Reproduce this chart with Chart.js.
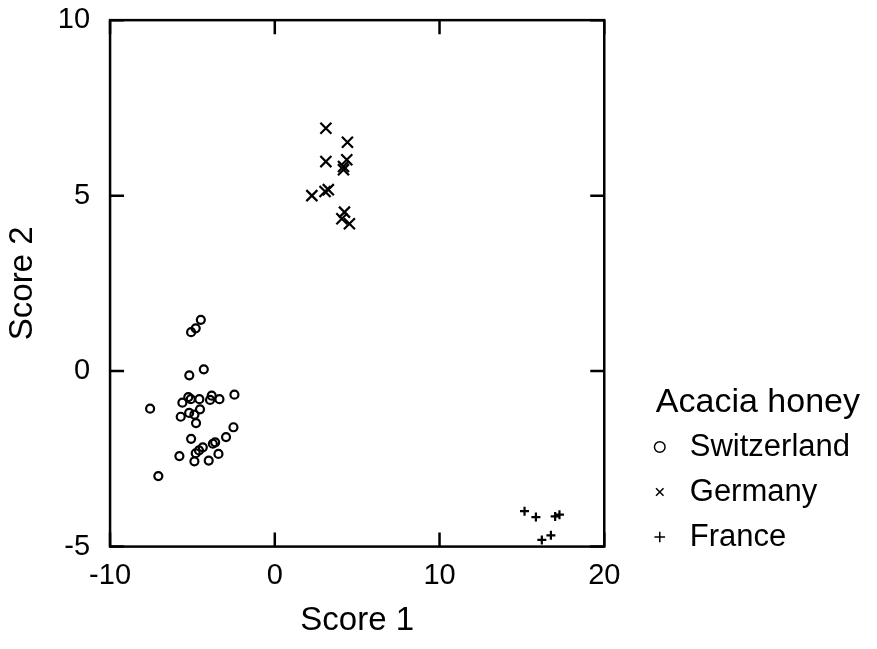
<!DOCTYPE html>
<html>
<head>
<meta charset="utf-8">
<script src="https://cdn.jsdelivr.net/npm/chart.js@4.4.1/dist/chart.umd.min.js"></script>
<style>
  html, body { margin: 0; padding: 0; background: #fff; }
  #wrap { width: 877px; height: 649px; }
</style>
</head>
<body>
<div id="wrap"><canvas id="Score-plot"></canvas></div>
<script>
// Acacia honey, scores
const SWISS_X = [-4.49, -4.80, -5.08, -4.31, -5.19, -2.45, -3.83, -3.36, -3.93, -5.25, -4.58, -5.10, -5.61, -7.57, -5.20, -4.54,
  -5.71, -4.88, -4.78, -2.51, -5.08, -2.96, -3.62, -3.76, -4.37, -4.60, -4.80, -3.42, -5.79, -4.88, -4.01, -7.07]
const SWISS_Y = [1.46, 1.22, 1.11, 0.05, -0.12, -0.67, -0.70, -0.80, -0.82, -0.74, -0.80, -0.80, -0.90, -1.07, -1.19, -1.09,
  -1.30, -1.24, -1.48, -1.60, -1.93, -1.88, -2.03, -2.07, -2.17, -2.26, -2.34, -2.36, -2.42, -2.57, -2.55, -2.99]
const GERMANY_X = [3.10, 4.41, 3.10, 4.37, 4.17, 4.17, 3.25, 3.05, 2.25, 4.23, 4.07, 4.53]
const GERMANY_Y = [6.92, 6.52, 5.97, 6.02, 5.83, 5.74, 5.17, 5.12, 5.00, 4.53, 4.34, 4.20]
const FRANCE_X = [15.16, 15.85, 17.02, 17.28, 16.21, 16.76]
const FRANCE_Y = [-3.99, -4.16, -4.14, -4.09, -4.81, -4.68]

const X_TICKS = [-10, 0, 10, 20]
const Y_TICKS = [-5, 0, 5, 10]

function puntos(xs, ys) {
    let out = []
    for (let i = 0; i < xs.length; i++) out.push({x: xs[i], y: ys[i]})
    return out
}

Chart.defaults.font.family = "'Liberation Sans', Arial, sans-serif";
Chart.defaults.color = "#000";

// frame round the plot plus inward tick marks on every side
const marco = {
    id: "marco",
    afterDraw(chart) {
        const {ctx, chartArea: a, scales: {x, y}} = chart;
        const len = 14;
        ctx.save();
        ctx.strokeStyle = "#000";
        ctx.lineWidth = 2.5;
        ctx.beginPath();
        for (let t of x.ticks) {
            let px = x.getPixelForValue(t.value);
            ctx.moveTo(px, a.bottom); ctx.lineTo(px, a.bottom - len);
            ctx.moveTo(px, a.top); ctx.lineTo(px, a.top + len);
        }
        for (let t of y.ticks) {
            let py = y.getPixelForValue(t.value);
            ctx.moveTo(a.left, py); ctx.lineTo(a.left + len, py);
            ctx.moveTo(a.right, py); ctx.lineTo(a.right - len, py);
        }
        ctx.stroke();
        ctx.strokeRect(a.left, a.top, a.right - a.left, a.bottom - a.top);
        ctx.restore();
    }
};

const ctx = document.getElementById("Score-plot").getContext("2d");
const myChart = new Chart(ctx, {
    type: "scatter",
    data: {
        datasets: [{
                label: "Switzerland",
                data: puntos(SWISS_X, SWISS_Y),
                pointStyle: "circle",
                pointRadius: 4,
                pointBorderWidth: 2.2,
                borderColor: "#000",
                backgroundColor: "rgba(0,0,0,0)"
            },
            {
                label: "Germany",
                data: puntos(GERMANY_X, GERMANY_Y),
                pointStyle: "crossRot",
                pointRadius: 7.8,
                pointBorderWidth: 2.2,
                borderColor: "#000",
                backgroundColor: "#000"
            },
            {
                label: "France",
                data: puntos(FRANCE_X, FRANCE_Y),
                pointStyle: "cross",
                pointRadius: 4.5,
                pointBorderWidth: 2.2,
                borderColor: "#000",
                backgroundColor: "#000"
            }
        ]
    },
    options: {
        responsive: true,
        maintainAspectRatio: false,
        animation: false,
        layout: {
            padding: {left: 0, top: 0, right: 17, bottom: 0}
        },
        plugins: {
            tooltip: {enabled: false},
            legend: {
                position: "right",
                align: "start",
                maxWidth: 260,
                title: {
                    display: true,
                    text: "Acacia honey",
                    position: "end",
                    color: "#000",
                    font: {size: 34, lineHeight: 0.926},
                    padding: {top: 386, bottom: 0}
                },
                labels: {
                    usePointStyle: true,
                    boxWidth: 29,
                    boxHeight: 7.5,
                    padding: 14,
                    color: "#000",
                    font: {size: 31},
                    // thinner symbols in the key than in the plot
                    generateLabels: (chart) => Chart.defaults.plugins.legend.labels.generateLabels(chart)
                        .map(l => Object.assign(l, {lineWidth: 1.5}))
                }
            }
        },
        scales: {
            x: {
                type: "linear",
                min: -10,
                max: 20,
                afterBuildTicks: (s) => { s.ticks = X_TICKS.map(v => ({value: v})) },
                grid: {display: false, drawTicks: false},
                border: {display: false},
                ticks: {
                    autoSkip: false,
                    padding: 16,
                    color: "#000",
                    font: {size: 29, lineHeight: 0.9}
                },
                title: {
                    display: true,
                    text: "Score 1",
                    color: "#000",
                    font: {size: 33, lineHeight: 0.9},
                    padding: {top: 1, bottom: 13.6}
                }
            },
            y: {
                type: "linear",
                min: -5,
                max: 10,
                afterBuildTicks: (s) => { s.ticks = Y_TICKS.map(v => ({value: v})) },
                grid: {display: false, drawTicks: false},
                border: {display: false},
                ticks: {
                    autoSkip: false,
                    padding: 20,
                    color: "#000",
                    font: {size: 29, lineHeight: 0.01}
                },
                title: {
                    display: true,
                    text: "Score 2",
                    color: "#000",
                    font: {size: 33, lineHeight: 0.85},
                    padding: {top: 9, bottom: 0.75}
                }
            },
            // empty axis on the right, only keeps the gap before the legend
            y2: {
                type: "linear",
                position: "right",
                display: true,
                grid: {display: true, drawOnChartArea: false, drawTicks: true, tickLength: 27, color: "rgba(0,0,0,0)"},
                border: {display: false},
                ticks: {display: false}
            }
        }
    },
    plugins: [marco]
});
</script>
</body>
</html>
